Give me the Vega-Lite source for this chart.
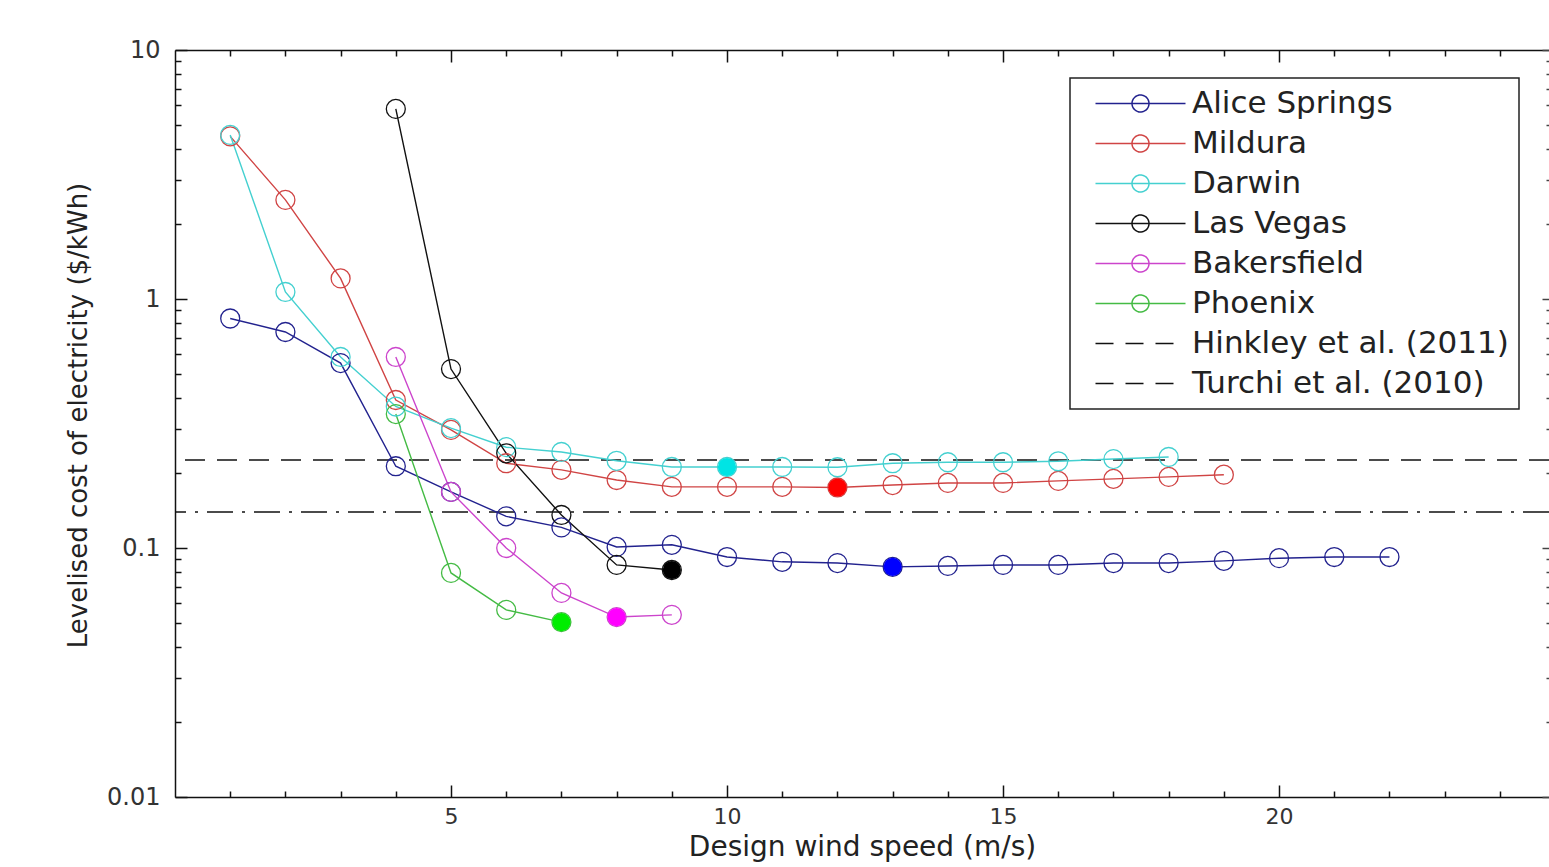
{
  "$schema": "https://vega.github.io/schema/vega-lite/v6.json",
  "width": 1374,
  "height": 747,
  "autosize": {"type": "none"},
  "padding": {"left": 175, "top": 50, "right": 0, "bottom": 70},
  "background": "white",
  "config": {"view": {"stroke": null}, "font": "DejaVu Sans"},
  "datasets": {
    "series": [
      {"site": "Alice Springs", "x": 1, "y": 0.835},
      {"site": "Alice Springs", "x": 2, "y": 0.737},
      {"site": "Alice Springs", "x": 3, "y": 0.553},
      {"site": "Alice Springs", "x": 4, "y": 0.213},
      {"site": "Alice Springs", "x": 5, "y": 0.168},
      {"site": "Alice Springs", "x": 6, "y": 0.134},
      {"site": "Alice Springs", "x": 7, "y": 0.121},
      {"site": "Alice Springs", "x": 8, "y": 0.101},
      {"site": "Alice Springs", "x": 9, "y": 0.103},
      {"site": "Alice Springs", "x": 10, "y": 0.092},
      {"site": "Alice Springs", "x": 11, "y": 0.088},
      {"site": "Alice Springs", "x": 12, "y": 0.087},
      {"site": "Alice Springs", "x": 13, "y": 0.084, "opt": 1},
      {"site": "Alice Springs", "x": 14, "y": 0.0847},
      {"site": "Alice Springs", "x": 15, "y": 0.0855},
      {"site": "Alice Springs", "x": 16, "y": 0.0855},
      {"site": "Alice Springs", "x": 17, "y": 0.087},
      {"site": "Alice Springs", "x": 18, "y": 0.087},
      {"site": "Alice Springs", "x": 19, "y": 0.0888},
      {"site": "Alice Springs", "x": 20, "y": 0.091},
      {"site": "Alice Springs", "x": 21, "y": 0.092},
      {"site": "Alice Springs", "x": 22, "y": 0.092},
      {"site": "Mildura", "x": 1, "y": 4.5},
      {"site": "Mildura", "x": 2, "y": 2.5},
      {"site": "Mildura", "x": 3, "y": 1.21},
      {"site": "Mildura", "x": 4, "y": 0.393},
      {"site": "Mildura", "x": 5, "y": 0.298},
      {"site": "Mildura", "x": 6, "y": 0.219},
      {"site": "Mildura", "x": 7, "y": 0.206},
      {"site": "Mildura", "x": 8, "y": 0.1875},
      {"site": "Mildura", "x": 9, "y": 0.176},
      {"site": "Mildura", "x": 10, "y": 0.176},
      {"site": "Mildura", "x": 11, "y": 0.176},
      {"site": "Mildura", "x": 12, "y": 0.175, "opt": 1},
      {"site": "Mildura", "x": 13, "y": 0.179},
      {"site": "Mildura", "x": 14, "y": 0.1825},
      {"site": "Mildura", "x": 15, "y": 0.1825},
      {"site": "Mildura", "x": 16, "y": 0.186},
      {"site": "Mildura", "x": 17, "y": 0.1895},
      {"site": "Mildura", "x": 18, "y": 0.193},
      {"site": "Mildura", "x": 19, "y": 0.197},
      {"site": "Darwin", "x": 1, "y": 4.56},
      {"site": "Darwin", "x": 2, "y": 1.067},
      {"site": "Darwin", "x": 3, "y": 0.585},
      {"site": "Darwin", "x": 4, "y": 0.37},
      {"site": "Darwin", "x": 5, "y": 0.303},
      {"site": "Darwin", "x": 6, "y": 0.254},
      {"site": "Darwin", "x": 7, "y": 0.243},
      {"site": "Darwin", "x": 8, "y": 0.224},
      {"site": "Darwin", "x": 9, "y": 0.2115},
      {"site": "Darwin", "x": 10, "y": 0.2115, "opt": 1},
      {"site": "Darwin", "x": 11, "y": 0.2115},
      {"site": "Darwin", "x": 12, "y": 0.211},
      {"site": "Darwin", "x": 13, "y": 0.219},
      {"site": "Darwin", "x": 14, "y": 0.221},
      {"site": "Darwin", "x": 15, "y": 0.221},
      {"site": "Darwin", "x": 16, "y": 0.223},
      {"site": "Darwin", "x": 17, "y": 0.2276},
      {"site": "Darwin", "x": 18, "y": 0.232},
      {"site": "Las Vegas", "x": 4, "y": 5.8},
      {"site": "Las Vegas", "x": 5, "y": 0.523},
      {"site": "Las Vegas", "x": 6, "y": 0.24},
      {"site": "Las Vegas", "x": 7, "y": 0.1357},
      {"site": "Las Vegas", "x": 8, "y": 0.0855},
      {"site": "Las Vegas", "x": 9, "y": 0.0816, "opt": 1},
      {"site": "Bakersfield", "x": 4, "y": 0.585},
      {"site": "Bakersfield", "x": 5, "y": 0.168},
      {"site": "Bakersfield", "x": 6, "y": 0.1},
      {"site": "Bakersfield", "x": 7, "y": 0.066},
      {"site": "Bakersfield", "x": 8, "y": 0.0528, "opt": 1},
      {"site": "Bakersfield", "x": 9, "y": 0.0539},
      {"site": "Phoenix", "x": 4, "y": 0.345},
      {"site": "Phoenix", "x": 5, "y": 0.0794},
      {"site": "Phoenix", "x": 6, "y": 0.0564},
      {"site": "Phoenix", "x": 7, "y": 0.0504, "opt": 1}
    ],
    "refs": [
      {"site": "Hinkley et al. (2011)", "y": 0.2256},
      {"site": "Turchi et al. (2010)", "y": 0.1395}
    ]
  },
  "layer": [
    {
      "data": {"name": "refs"},
      "mark": {"type": "rule", "strokeWidth": 1.5},
      "encoding": {
        "y": {"field": "y", "type": "quantitative", "scale": {"type": "log", "domain": [0.01, 10], "nice": false}, "axis": null},
        "color": {
          "field": "site", "type": "nominal",
          "scale": {
            "domain": ["Alice Springs", "Mildura", "Darwin", "Las Vegas", "Bakersfield", "Phoenix", "Hinkley et al. (2011)", "Turchi et al. (2010)"],
            "range": ["#22228e", "#d04444", "#44d0d0", "#111111", "#cc44cc", "#44bb44", "#111111", "#111111"]
          }
        },
        "strokeDash": {
          "field": "site", "type": "nominal",
          "scale": {"domain": ["Hinkley et al. (2011)", "Turchi et al. (2010)"], "range": [[20, 12], [26, 9, 3, 9]]},
          "legend": null
        }
      }
    },
    {
      "data": {"name": "series"},
      "mark": {"type": "line", "strokeWidth": 1.4},
      "encoding": {
        "x": {
          "field": "x", "type": "quantitative",
          "scale": {"domain": [0, 24.89], "nice": false, "zero": false},
          "axis": {
            "orient": "bottom",
            "values": [1,2,3,4,5,6,7,8,9,10,11,12,13,14,15,16,17,18,19,20,21,22,23,24],
            "tickSize": {"condition": {"test": "datum.value % 5 === 0", "value": -12}, "value": -6},
            "labelExpr": "datum.value % 5 === 0 ? datum.label : ''",
            "labelOverlap": false, "labelFlush": false,
            "grid": false,
            "domainColor": "#111", "domainWidth": 1.5,
            "tickColor": "#111", "tickWidth": 1.5,
            "labelFont": "DejaVu Sans", "labelFontSize": 22, "labelColor": "#333", "labelPadding": 21,
            "title": "Design wind speed (m/s)",
            "titleFont": "DejaVu Sans", "titleFontSize": 28, "titleFontWeight": "normal", "titleColor": "#222", "titlePadding": 0
          }
        },
        "y": {
          "field": "y", "type": "quantitative",
          "scale": {"type": "log", "domain": [0.01, 10], "nice": false},
          "axis": {
            "orient": "left",
            "values": [0.01,0.02,0.03,0.04,0.05,0.06,0.07,0.08,0.09,0.1,0.2,0.3,0.4,0.5,0.6,0.7,0.8,0.9,1,2,3,4,5,6,7,8,9,10],
            "tickSize": {"condition": {"test": "abs(log(datum.value)/LN10 - round(log(datum.value)/LN10)) < 0.001", "value": -12}, "value": -6},
            "labelExpr": "abs(log(datum.value)/LN10 - round(log(datum.value)/LN10)) < 0.001 ? format(datum.value, '~g') : ''",
            "labelOverlap": false, "labelFlush": false,
            "grid": false,
            "domainColor": "#111", "domainWidth": 1.5,
            "tickColor": "#111", "tickWidth": 1.5,
            "labelFont": "DejaVu Sans", "labelFontSize": 24, "labelColor": "#333", "labelPadding": 27,
            "title": "Levelised cost of electricity ($/kWh)",
            "titleFont": "DejaVu Sans", "titleFontSize": 26, "titleFontWeight": "normal", "titleColor": "#222", "titlePadding": 15,
            "titleY": 365
          }
        },
        "color": {
          "field": "site", "type": "nominal",
          "scale": {
            "domain": ["Alice Springs", "Mildura", "Darwin", "Las Vegas", "Bakersfield", "Phoenix", "Hinkley et al. (2011)", "Turchi et al. (2010)"],
            "range": ["#22228e", "#d04444", "#44d0d0", "#111111", "#cc44cc", "#44bb44", "#111111", "#111111"]
          },
          "legend": {
            "title": null,
            "orient": "none", "legendX": 895, "legendY": 28,
            "padding": 10,
            "strokeColor": "#222", "fillColor": "white",
            "labelFont": "DejaVu Sans", "labelFontSize": 31, "labelColor": "#222", "labelLimit": 0,
            "symbolSize": 400, "symbolOffset": 45, "labelOffset": 36, "rowPadding": 8,
            "symbolStrokeWidth": 1.5,
            "symbolType": "M-4.5,0H4.5M-0.85,0A0.85,0.85 0 1,0 0.85,0A0.85,0.85 0 1,0 -0.85,0",
            "encode": {
              "symbols": {
                "update": {
                  "shape": {"signal": "(datum.value === 'Hinkley et al. (2011)' || datum.value === 'Turchi et al. (2010)') ? 'M-4.5,0H4.5' : 'M-4.5,0H4.5M-0.85,0A0.85,0.85 0 1,0 0.85,0A0.85,0.85 0 1,0 -0.85,0'"},
                  "strokeDash": {"signal": "(datum.value === 'Hinkley et al. (2011)' || datum.value === 'Turchi et al. (2010)') ? [18, 12] : [1, 0]"},
                  "fill": {"value": "transparent"},
                  "stroke": {"scale": "color", "field": "value"},
                  "strokeWidth": {"value": 1.5},
                  "opacity": {"value": 1}
                }
              },
              "legend": {"update": {"strokeWidth": {"value": 1.5}}}
            }
          }
        }
      }
    },
    {
      "data": {"name": "series"},
      "mark": {"type": "point", "shape": "circle", "filled": false, "size": 360, "strokeWidth": 1.3, "opacity": 1},
      "encoding": {
        "x": {
          "field": "x", "type": "quantitative",
          "scale": {"domain": [0, 24.89], "nice": false, "zero": false},
          "axis": {
            "orient": "top",
            "values": [1,2,3,4,5,6,7,8,9,10,11,12,13,14,15,16,17,18,19,20,21,22,23,24],
            "tickSize": {"condition": {"test": "datum.value % 5 === 0", "value": -12}, "value": -6},
            "labels": false, "title": null, "grid": false,
            "domainColor": "#111", "domainWidth": 1.5,
            "tickColor": "#111", "tickWidth": 1.5
          }
        },
        "y": {
          "field": "y", "type": "quantitative",
          "scale": {"type": "log", "domain": [0.01, 10], "nice": false},
          "axis": {
            "orient": "right",
            "values": [0.01,0.02,0.03,0.04,0.05,0.06,0.07,0.08,0.09,0.1,0.2,0.3,0.4,0.5,0.6,0.7,0.8,0.9,1,2,3,4,5,6,7,8,9,10],
            "tickSize": {"condition": {"test": "abs(log(datum.value)/LN10 - round(log(datum.value)/LN10)) < 0.001", "value": -7}, "value": -3},
            "labels": false, "title": null, "grid": false, "domain": false,
            "tickColor": "#444", "tickWidth": 1.5
          }
        },
        "color": {
          "field": "site", "type": "nominal",
          "scale": {
            "domain": ["Alice Springs", "Mildura", "Darwin", "Las Vegas", "Bakersfield", "Phoenix", "Hinkley et al. (2011)", "Turchi et al. (2010)"],
            "range": ["#22228e", "#d04444", "#44d0d0", "#111111", "#cc44cc", "#44bb44", "#111111", "#111111"]
          }
        }
      }
    },
    {
      "data": {"name": "series"},
      "transform": [{"filter": "datum.opt === 1"}],
      "mark": {"type": "point", "shape": "circle", "filled": true, "size": 330, "opacity": 1, "strokeWidth": 0},
      "encoding": {
        "x": {"field": "x", "type": "quantitative", "scale": {"domain": [0, 24.89], "nice": false, "zero": false}, "axis": null},
        "y": {"field": "y", "type": "quantitative", "scale": {"type": "log", "domain": [0.01, 10], "nice": false}, "axis": null},
        "fill": {
          "field": "site", "type": "nominal",
          "scale": {
            "domain": ["Alice Springs", "Mildura", "Darwin", "Las Vegas", "Bakersfield", "Phoenix"],
            "range": ["#0000ff", "#ff0000", "#00e4e4", "#000000", "#ff00ff", "#00ee00"]
          },
          "legend": null
        }
      }
    }
  ],
  "resolve": {"axis": {"x": "independent", "y": "independent"}}
}
